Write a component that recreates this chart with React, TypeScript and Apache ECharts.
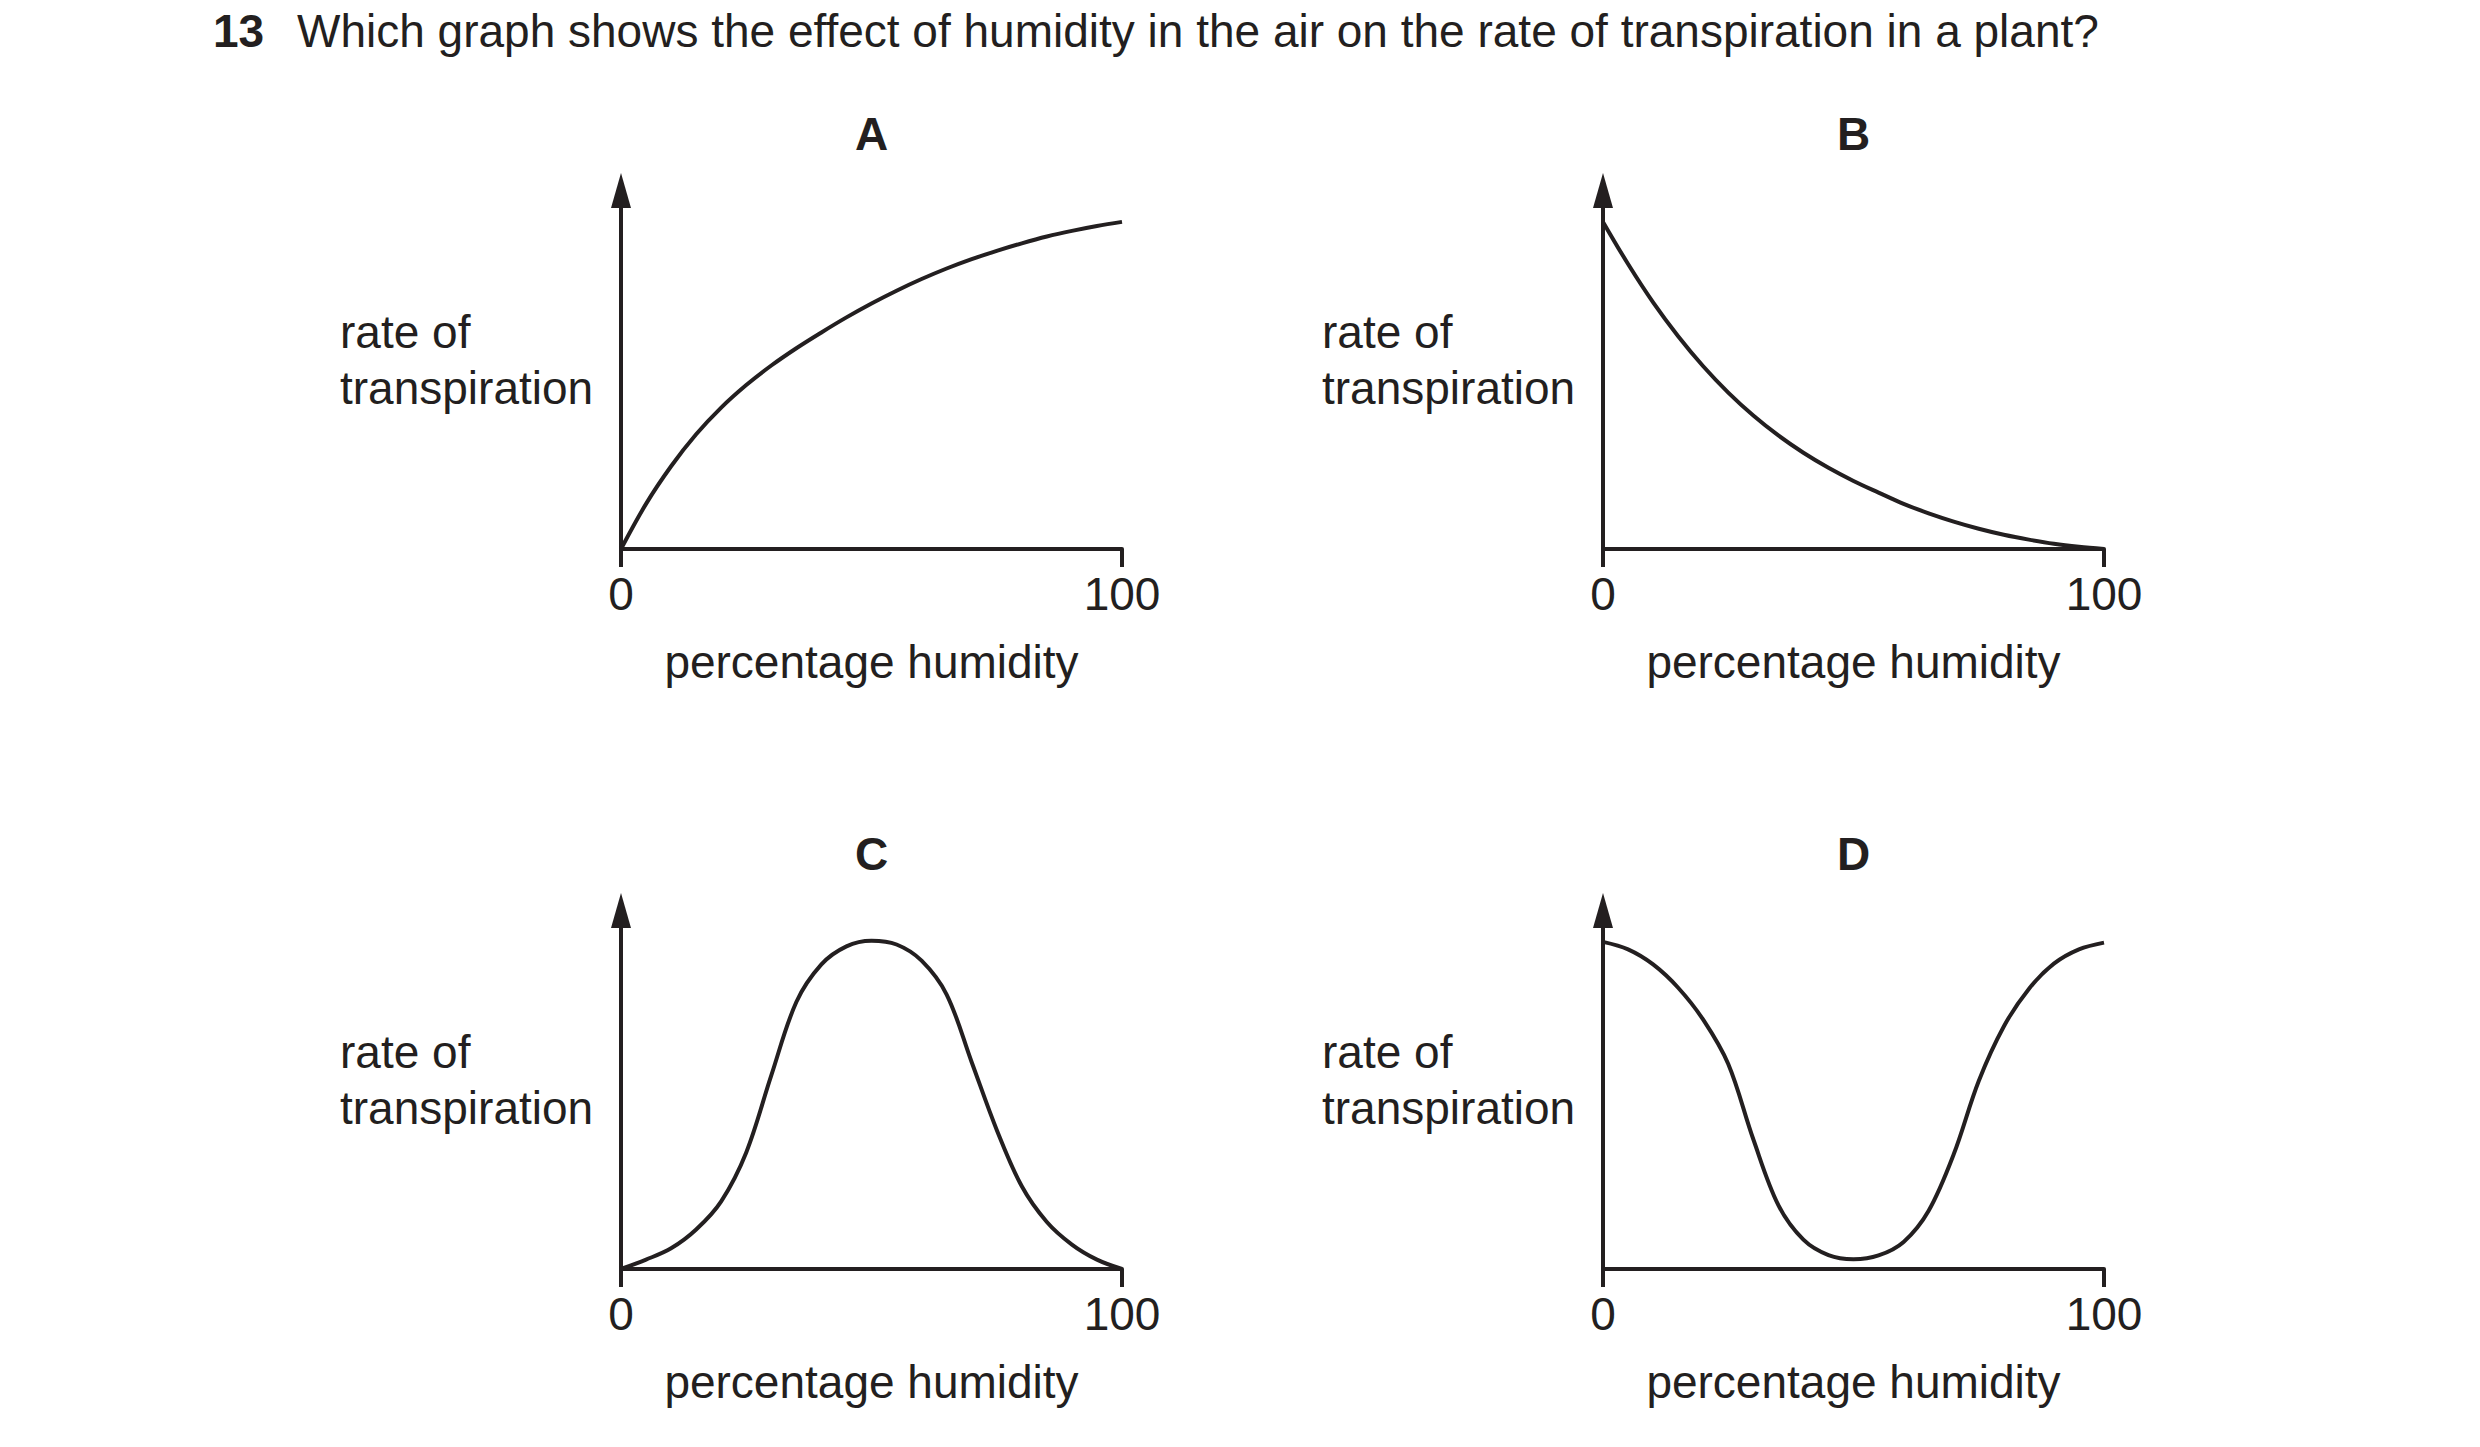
import { useEffect, useRef } from "react";
import * as echarts from "echarts";

const INK = "#231f20";
const FONT = "'Liberation Sans', Arial, Helvetica, sans-serif";

const questionNumber = "13";
const questionText =
  "Which graph shows the effect of humidity in the air on the rate of transpiration in a plant?";
const panelLetters = ["A", "B", "C", "D"];
const xAxisName = "percentage humidity";
const yAxisNameLines = ["rate of", "transpiration"];

// humidity (%) sampled along the x axis
const humidity = [0, 5, 10, 15, 20, 25, 30, 35, 40, 45, 50, 55, 60, 65, 70, 75, 80, 85, 90, 95, 100];

// rate of transpiration (0 = x axis, 100 = tip of y arrow)
const rateA = [0, 12, 22, 30.5, 37.6, 43.6, 48.8, 53.4, 57.6, 61.6, 65.3, 68.7, 71.8, 74.6, 77.1, 79.3, 81.3, 83.1, 84.6, 85.9, 87];
const rateB = [87, 75.8, 65.6, 56.6, 48.6, 41.6, 35.5, 30.2, 25.6, 21.6, 18.1, 15, 12, 9.5, 7.3, 5.4, 3.8, 2.5, 1.4, 0.6, 0];
const rateC = [0, 2.5, 5.5, 10.5, 18, 31, 51.5, 71, 81, 85.8, 87.3, 86.3, 82, 73, 55, 37, 22, 12.5, 6.5, 2.5, 0];
const rateD = [87, 85, 81, 74.8, 66.3, 54.5, 34.5, 17, 7.8, 3.7, 2.6, 3.6, 7.2, 15.5, 30.5, 50, 64.5, 74.5, 81.2, 85, 86.8];

const xTicks = [0, 100];

const panels = [rateA, rateB, rateC, rateD];

// grid placement (px)
const gridLefts = [621, 1603, 621, 1603];
const gridTops = [208, 208, 928, 928];
const GRID_W = 501;
const GRID_H = 341;
const ARROW_H = 35;
const LINE_W = 4;
// y max so that value 100 sits at the arrow tip
const Y_MAX = (GRID_H / (GRID_H + ARROW_H)) * 100;

export default function App() {
  const chartRef = useRef<HTMLDivElement | null>(null);

  useEffect(() => {
    document.body.style.margin = "0";
    if (!chartRef.current) {
      return;
    }

    const chart = echarts.init(chartRef.current, null, { renderer: "svg" });

    const textStyle = { fontFamily: FONT, fontSize: 46, color: INK };
    // trailing spacer line lifts the two-line label above the axis middle
    const yName = yAxisNameLines.map((line) => `{t|${line}}`).join("\n") + "\n{s| }";

    chart.setOption({
      animation: false,
      backgroundColor: "#ffffff",
      textStyle: { fontFamily: FONT, color: INK },
      grid: panels.map((_, i) => ({
        left: gridLefts[i],
        top: gridTops[i],
        width: GRID_W,
        height: GRID_H,
        containLabel: false,
      })),
      xAxis: panels.map((_, i) => ({
        type: "value",
        gridIndex: i,
        min: xTicks[0],
        max: xTicks[1],
        interval: xTicks[1] - xTicks[0],
        name: xAxisName,
        nameLocation: "middle",
        nameGap: 90,
        nameTextStyle: { ...textStyle, lineHeight: 46 },
        axisLine: { show: true, onZero: false, lineStyle: { color: INK, width: LINE_W } },
        axisTick: { show: true, length: 18, lineStyle: { color: INK, width: LINE_W } },
        axisLabel: { ...textStyle, margin: 22, lineHeight: 46 },
        splitLine: { show: false },
      })),
      yAxis: panels.map((_, i) => ({
        type: "value",
        gridIndex: i,
        min: 0,
        max: Y_MAX,
        name: yName,
        nameLocation: "middle",
        nameRotate: 0,
        nameGap: 281,
        nameTextStyle: {
          ...textStyle,
          align: "left",
          verticalAlign: "middle",
          rich: {
            t: { fontFamily: FONT, fontSize: 46, color: INK, lineHeight: 56 },
            s: { fontFamily: FONT, fontSize: 10, lineHeight: 37 },
          },
        },
        axisLine: {
          show: true,
          onZero: false,
          symbol: ["none", "triangle"],
          symbolSize: [20, ARROW_H],
          symbolOffset: [0, ARROW_H / 2],
          lineStyle: { color: INK, width: LINE_W },
        },
        axisTick: { show: false },
        axisLabel: { show: false },
        splitLine: { show: false },
      })),
      series: panels.map((rates, i) => ({
        type: "line",
        name: panelLetters[i],
        xAxisIndex: i,
        yAxisIndex: i,
        data: humidity.map((h, k) => [h, rates[k]]),
        smooth: 0.35,
        showSymbol: false,
        silent: true,
        lineStyle: { color: INK, width: LINE_W },
        z: 1,
      })),
      graphic: [
        {
          type: "text",
          x: 213,
          y: 31,
          style: {
            text: questionNumber,
            font: `bold 46px ${FONT}`,
            fill: INK,
            verticalAlign: "middle",
          },
        },
        {
          type: "text",
          x: 297,
          y: 31,
          style: {
            text: questionText,
            font: `46px ${FONT}`,
            fill: INK,
            verticalAlign: "middle",
          },
        },
        ...panelLetters.map((letter, i) => ({
          type: "text",
          x: gridLefts[i] + GRID_W / 2,
          y: gridTops[i] - 58 - 16,
          style: {
            text: letter,
            font: `bold 46px ${FONT}`,
            fill: INK,
            align: "center",
            verticalAlign: "middle",
          },
        })),
      ],
    });

    return () => {
      chart.dispose();
    };
  }, []);

  return (
    <div
      ref={chartRef}
      style={{ position: "fixed", left: 0, top: 0, width: 2480, height: 1447 }}
    />
  );
}
